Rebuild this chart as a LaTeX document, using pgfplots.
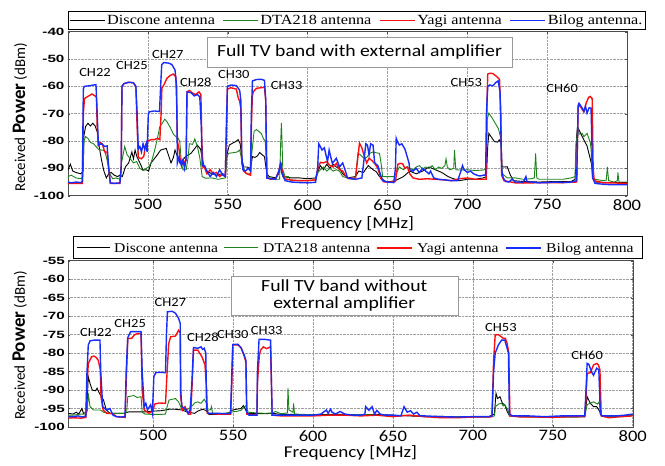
\documentclass[border=0pt]{standalone}
\usepackage{fontspec}
\setmainfont{Carlito}[FakeStretch=1.16]
\newfontfamily\ylabfont{Carlito}
\newfontfamily\legfont{Liberation Serif}[FakeStretch=1.16]
\newfontfamily\tickfont{Liberation Sans}[FakeStretch=1.45]
\usepackage{pgfplots}
\pgfplotsset{compat=1.18}

\definecolor{cBlue}{RGB}{25,45,250}
\definecolor{cRed}{RGB}{250,15,15}
\definecolor{cGreen}{RGB}{30,130,30}

\tikzset{
  chl/.style={font=\fontsize{12.5}{14}\selectfont},
  legtxt/.style={anchor=base west, inner sep=0pt, font=\legfont\fontsize{13.5}{15}\selectfont},
}

\pgfplotsset{
  tvpanel/.style={
    scale only axis,
    axis line style={gray!60!black},
    grid=major,
    major grid style={densely dotted, gray!75, line width=0.6pt},
    tick align=inside,
    major tick length=2pt,
    tick style={gray!60!black},
    xtick={500,550,...,800},
    /pgf/number format/assume math mode=true,
    xticklabel style={font=\fontsize{16}{18}\selectfont},
    yticklabel style={font=\tickfont\bfseries\fontsize{10.5}{12}\selectfont},
    xlabel={Frequency [MHz]},
    xlabel style={font=\fontsize{16.5}{19}\selectfont, anchor=center},
    ylabel={\ylabfont\fontsize{15}{17}\selectfont Received {\bfseries\fontsize{19}{20}\selectfont Power} (dBm)},
    ylabel style={anchor=center},
    legend columns=4,
    legend style={font=\legfont\fontsize{14}{15.5}\selectfont,
      inner xsep=1pt, inner ysep=1.5pt, nodes={inner sep=2pt},
      at={(0,1)}, anchor=south west, yshift=2pt,
      /tikz/every even column/.append style={column sep=5.5pt}},
  },
  discimg/.style={legend image code/.code={\draw[black, line width=1pt] (0pt,0pt) -- (35pt,0pt);}},
  dtaimg/.style={legend image code/.code={\draw[cGreen, line width=1pt] (0pt,0pt) -- (35pt,0pt);}},
  yagiimg/.style={legend image code/.code={\draw[cRed, line width=1.4pt] (0pt,0pt) -- (35pt,0pt);}},
  bilogimg/.style={legend image code/.code={\draw[cBlue, line width=1.4pt] (0pt,0pt) -- (35pt,0pt);}},
}

\begin{document}
\begin{tikzpicture}
\useasboundingbox (0,0) rectangle (665pt,466pt);

% ---------------- top panel: with external amplifier
\begin{axis}[tvpanel,
  at={(68pt,270.3pt)}, anchor=south west,
  width=559pt, height=164pt,
  xmin=450, xmax=800, ymin=-100, ymax=-40,
  ytick={-100,-90,...,-40},
  xlabel style={at={(axis description cs:0.5,-0.17)}},
  ylabel style={at={(axis description cs:-0.086,0.477)}},
]
\addlegendimage{discimg}
\addlegendentry{Discone antenna}
\addlegendimage{dtaimg}
\addlegendentry{DTA218 antenna}
\addlegendimage{yagiimg}
\addlegendentry{Yagi antenna}
\addlegendimage{bilogimg}
\addlegendentry{Bilog antenna.}
% Discone
\addplot[forget plot, draw=black, line width=0.9pt] coordinates {
(450,-90.5) (451.5,-88.5) (453,-91) (455,-91.5) (458,-92) (459.5,-91) (460,-78) (461,-74.7)
(462.5,-73.5) (464,-74.5) (465.5,-73.5) (467,-74.5) (468.5,-77) (469.5,-82) (471,-87) (472.5,-91)
(474,-93.5) (475.5,-92) (477,-91.5) (479,-92.5) (481,-93) (482.5,-92.5) (484,-93) (486,-89.4)
(488,-88) (490,-84) (491,-86.5) (492,-83.3) (493,-85.5) (495,-88) (497,-90.6) (499,-90.5)
(500.5,-91) (502,-88) (504,-86.5) (506,-85) (508,-83.3) (511.5,-82.7) (514.5,-88) (516,-86)
(517,-83.3) (520,-88) (524,-85.5) (527,-84.5) (531,-81.5) (533,-83) (535,-89) (537,-91)
(540,-92) (543,-92.5) (546,-92) (548.5,-93) (549.5,-85) (551,-81.5) (553,-80.8) (555,-80.2)
(556.5,-79.5) (557.8,-81) (559,-87) (560,-89.5) (562,-89.5) (564.3,-90) (565.5,-85.7) (567,-86)
(568.5,-85.5) (570,-84.2) (571.5,-85) (573,-85.7) (574.5,-92) (576,-93) (580,-93.5) (582,-92)
(583.5,-88.5) (584.5,-93) (590,-93.5) (595,-93.5) (600,-93.8) (605,-93.5) (606.5,-91) (608,-89)
(610,-90.5) (612,-88.5) (614,-90) (616,-88.5) (618,-89.5) (620,-90) (622,-92) (625,-93.5)
(630,-93) (632,-91) (635,-91.5) (638,-89) (641,-90.5) (643,-91.2) (645,-93) (648,-94.5)
(650,-95) (655,-94.5) (660,-93) (664,-91) (668,-92) (672,-91) (676,-89.5) (680,-90.5)
(684,-91.5) (688,-93) (690,-93.5) (695,-94.5) (700,-94) (705,-94) (710,-93.5) (712,-93)
(712.8,-82) (713.5,-77.2) (715,-78.5) (717,-80.2) (719,-80.4) (720,-79.6) (721.2,-81) (721.8,-89.4)
(723,-89.5) (725,-89.4) (727,-92.5) (729,-94.5) (735,-94.8) (745,-95) (755,-94.8) (765,-94.8)
(767.5,-94) (768.5,-78) (769,-74.7) (771,-77.2) (773,-79.6) (775,-81.8) (777,-86.5) (777.8,-88.5)
(778.5,-93.6) (780,-95) (790,-95.2) (800,-95.2)
};
% DTA218
\addplot[forget plot, draw=cGreen, line width=0.9pt] coordinates {
(450,-93) (452,-92.5) (455,-93.5) (458,-93.8) (459.3,-93) (460,-80) (461,-78.4) (462.5,-79)
(464,-80.5) (466,-81) (467.5,-82) (469,-83) (471,-83.3) (473,-83.5) (474.5,-87) (476,-91.8)
(478,-93.8) (480,-93.5) (482.5,-94) (483.5,-88) (485.5,-82) (487,-85) (489,-86.5) (491,-88)
(493,-87.5) (495,-90) (497,-90.8) (499,-90) (500.5,-89.5) (502,-88) (504,-84) (506,-79)
(507.5,-74.7) (509,-73.5) (510.6,-72) (512,-73) (514,-75) (516,-77.5) (517.5,-78.4) (519,-79)
(520,-80.2) (521,-88) (522,-90.6) (524,-90.5) (525.2,-86) (526,-81) (528,-81.2) (529.4,-79.2)
(531,-82) (532.5,-86) (534,-93) (536,-93.6) (540,-93.5) (544,-94) (548.5,-93.5) (549.5,-86)
(550.5,-84.5) (553,-84.3) (556,-84) (557.5,-83.3) (558.5,-86) (559.5,-89.4) (561.5,-91.8) (564.3,-91.8)
(565,-85) (566.5,-76.5) (568,-75.8) (569.5,-76.5) (571,-77.2) (572.5,-79.3) (573.5,-80) (574.2,-88)
(574.8,-93) (576,-93.5) (580,-94) (582.5,-94) (583.2,-80) (583.6,-73.5) (584,-80) (584.5,-90.6)
(586,-93) (588,-93) (589,-94.3) (595,-94.5) (600,-94.5) (605,-94.2) (606.5,-91.5) (608,-90.5)
(610,-89.5) (612,-91) (614,-90) (616,-91) (618,-90.5) (620,-91) (622,-93) (625,-93.5)
(628,-94) (630,-93.5) (631.5,-84.5) (633,-85) (635,-86.2) (637,-86) (639,-84.5) (641,-84)
(643,-84.3) (645,-84.5) (646,-88) (647,-93) (650,-93) (654,-93) (655.5,-92) (657.5,-89.5)
(660,-90.5) (662,-89.5) (664,-90) (666,-90.5) (668,-89.5) (670,-89) (672,-90.2) (674,-89.5)
(676,-90) (678,-89) (680,-90.5) (682,-89.5) (684,-90) (686,-89) (686.7,-86.5) (687.5,-89.5)
(689,-90.5) (691.5,-90) (692,-83.3) (692.8,-90.5) (695,-90.6) (700,-90.5) (705,-90.8) (710,-90.6)
(712,-90) (712.5,-72) (713.5,-69.8) (715.5,-71.5) (717.5,-73.5) (719.5,-75.5) (721,-79) (721.5,-88)
(722,-92) (725,-93.5) (730,-93.5) (735,-94) (740,-93.8) (742,-93.5) (742.8,-84.5) (743.5,-93.5)
(745,-94) (750,-94) (755,-94) (760,-94) (765,-93.5) (767.5,-93) (768,-81.5) (769.3,-75)
(770,-77.5) (772,-77.2) (773,-78.4) (775,-77.2) (777,-80.5) (777.5,-83) (778.5,-93.6) (780,-94)
(785,-94.5) (787,-94.3) (787.7,-89.5) (788.5,-94.5) (792,-95) (794,-94.5) (794.3,-91.5) (795,-95)
(800,-95)
};
% Yagi
\addplot[forget plot, draw=cRed, line width=1.4pt] coordinates {
(450,-95.5) (455,-95.5) (459,-95.5) (459.6,-70) (460.3,-64.5) (461.5,-64) (463,-63.5) (465,-62.8)
(467,-63.5) (467.8,-64) (468.3,-75) (469,-81.5) (470,-80.5) (471.5,-81) (473,-84) (474.5,-84)
(475.5,-90) (476.5,-95.5) (482.5,-95.5) (483.3,-90) (483.8,-60) (485,-59) (488,-58.5) (491,-58.7)
(492.5,-60) (493.3,-75) (494,-86) (496,-86.5) (497.5,-85.5) (498.5,-81.5) (500,-80) (502,-79.5)
(504,-79.5) (506,-79) (507.5,-79.5) (508.3,-70) (508.8,-60.5) (510,-59.5) (512,-57) (514,-56)
(516,-55.5) (517.5,-56.5) (518,-65) (518.5,-80) (519.5,-83) (520.5,-88) (522,-88.5) (523,-87.5)
(524,-87) (524.5,-62) (526,-61.5) (528,-62.5) (530,-63) (532,-62) (533.2,-63) (533.8,-80)
(534.5,-89.5) (535,-89) (537,-92) (539,-90.5) (541,-92) (543,-91.5) (545,-93) (547,-92)
(548.5,-93) (549.2,-75) (549.8,-61) (552,-60.5) (554,-60.8) (555.4,-61) (556.5,-64) (557.5,-65.5)
(558.2,-68) (558.8,-88) (560,-91) (562,-92) (564.3,-92.5) (564.8,-75) (565.4,-63.7) (566,-62)
(568,-60.7) (571,-60.5) (573,-60.3) (573.8,-65) (574.5,-93.5) (577,-94) (580,-93.8) (582,-91)
(583,-88.3) (584,-90.5) (585.5,-93.8) (590,-94.3) (595,-94.5) (600,-94.5) (605,-94.2) (606.5,-90)
(608,-87.8) (610,-88) (612,-87.5) (614,-89) (616,-89.5) (618,-88.2) (620,-90.5) (622,-91)
(624,-93) (626,-93.8) (630,-93.5) (631.5,-86) (632.5,-80.8) (634,-82.5) (635.5,-85.5) (637,-88)
(638.5,-86.3) (640,-87) (642,-88.2) (644,-90) (646,-93.8) (648,-95) (652,-95) (655,-94.8)
(656.5,-88.5) (658,-88.2) (659.5,-88.3) (661,-90) (662.5,-89.5) (664,-92) (666,-93.5) (670,-94)
(675,-93.8) (680,-94) (685,-94.2) (690,-94.5) (695,-93.8) (700,-93.5) (705,-94) (710,-94)
(711.8,-94) (712.2,-70) (712.8,-55.5) (714,-55.2) (716,-55.3) (717.5,-56) (719,-56.7) (720.2,-57.5)
(721,-70) (721.5,-92.5) (723,-94.5) (730,-95.3) (740,-95.3) (750,-95.2) (760,-95.2) (768.5,-95)
(769.4,-68) (770,-66.5) (772,-68.5) (773,-69.3) (774.5,-66) (776,-64) (777,-63.7) (778.2,-64.5)
(778.8,-90) (779.5,-94.5) (785,-95.3) (790,-95.3) (800,-95.5)
};
% Bilog
\addplot[forget plot, draw=cBlue, line width=1.4pt] coordinates {
(450,-95) (452,-95.3) (455,-95) (458,-95.2) (459,-94.8) (459.6,-61) (460.2,-60) (463,-59.8)
(466,-59.5) (467.5,-59.4) (468.3,-70) (469,-81.5) (471,-81) (473,-82) (474.5,-81.8) (475.5,-90)
(476.5,-95.3) (479,-95.5) (482.5,-95.3) (483.3,-90) (483.8,-60) (485,-59) (488,-58.5) (491,-58.7)
(492.5,-60) (493.3,-70) (494,-83) (495,-82) (496,-84) (497,-81) (498,-83) (499,-81)
(499.5,-84) (500.3,-70) (501,-69.3) (504,-69) (507.3,-69.2) (508,-60) (508.7,-52) (510,-51.3)
(513,-51.5) (515,-52) (517,-54) (518,-60) (518.5,-88) (519.5,-86) (521,-89) (522,-87)
(523,-90) (524,-86) (524.5,-62) (527,-62.3) (529,-63.5) (531,-63) (532.5,-63.8) (533.5,-75)
(534,-89) (535.5,-89) (537,-91) (539,-93) (541,-91.5) (543,-93) (545,-90.5) (547,-92.5)
(548.5,-93) (549.2,-75) (549.8,-60) (552,-59.5) (555.4,-59.7) (557.5,-61.5) (558.2,-65) (558.8,-85)
(559.5,-90.5) (561,-91) (563,-90) (564.3,-91) (564.8,-70) (565.5,-58) (568,-57.5) (571,-57.4)
(573,-57.8) (573.8,-65) (574.5,-93.5) (577,-93.8) (580,-94) (582,-91) (583,-88.5) (584,-92)
(586,-94.5) (590,-95) (595,-95.2) (600,-95.3) (605,-95.1) (606.3,-90) (607,-81) (608,-82)
(609,-83.3) (610.5,-82.5) (612.5,-87.5) (613.5,-83.3) (615.5,-88.2) (618,-86.3) (620,-89.5) (622,-88)
(624,-91.5) (625,-93.5) (630,-94) (634,-93.5) (635.5,-86) (636.5,-81) (637.5,-81.5) (638.5,-85)
(639.5,-81) (641,-81.5) (642,-88) (644,-89) (645.5,-92) (647,-94.5) (650,-95) (654,-95.2)
(655,-90) (655.5,-79) (656.5,-80.5) (657.5,-81.5) (659,-81) (660,-82) (661,-83) (662.5,-86)
(663.5,-88) (664,-90.5) (666,-91) (668,-90) (670,-91.5) (672,-90) (674,-91) (676,-92)
(677,-91) (679,-93.5) (682,-94) (686,-94.2) (690,-94.5) (694,-94.5) (696,-91) (697,-89)
(698,-90.5) (700,-91.5) (702,-91) (704,-92) (706,-92.5) (708,-92.8) (710,-92.5) (711.5,-92.5)
(712,-70) (712.8,-60) (714,-59.5) (716,-59.8) (718,-58.5) (719.3,-58) (720.5,-62) (721,-75)
(721.5,-90.5) (722.5,-93.5) (724,-94.8) (726,-95) (728,-94) (730,-95) (733,-95) (735,-95.2)
(736.7,-93) (737.5,-95) (740,-95) (745,-95.3) (750,-95.2) (755,-95) (760,-95.2) (765,-95)
(768.5,-94.5) (769.4,-67) (770,-66.2) (772,-68) (773,-69.2) (774,-67.3) (775,-69.8) (776.3,-67.8)
(777.5,-68) (778,-80) (778.5,-93.5) (780,-95.5) (785,-95.8) (790,-96) (795,-96) (800,-96)
};

\node[chl] at (axis cs:466.9,-55.1) {CH22};
\node[chl] at (axis cs:490,-52.5) {CH25};
\node[chl] at (axis cs:512.5,-48.5) {CH27};
\node[chl] at (axis cs:530,-58.4) {CH28};
\node[chl] at (axis cs:553.8,-55.8) {CH30};
\node[chl] at (axis cs:586.9,-59.8) {CH33};
\node[chl] at (axis cs:699.4,-58.4) {CH53};
\node[chl] at (axis cs:759.4,-60.9) {CH60};
\node[draw=gray!80, fill=white, minimum width=305pt, minimum height=30pt,
  font=\fontsize{17}{19}\selectfont] at (axis description cs:0.5215,0.876)
  {Full TV band with external amplifier};
\end{axis}

% ---------------- bottom panel: without external amplifier
\begin{axis}[tvpanel,
  at={(68.3pt,39pt)}, anchor=south west,
  width=564.4pt, height=166.3pt,
  xmin=447, xmax=800, ymin=-100, ymax=-55,
  ytick={-100,-95,...,-55},
  xlabel style={at={(axis description cs:0.5,-0.158)}},
  ylabel style={at={(axis description cs:-0.086,0.49)}},
]
% Discone
\addplot[draw=black, line width=0.9pt] coordinates {
(447,-96.3) (450,-96.5) (452,-96) (453.5,-96.5) (455.5,-95) (456.5,-96.3) (458.5,-96) (459.5,-86.4)
(460.6,-88.2) (462,-90) (464,-90.2) (465,-89.5) (466,-90.5) (467.7,-91.8) (469,-92.7) (470.8,-95.4)
(473,-96.3) (480,-96.3) (482,-96.3) (485,-95.9) (490,-95.9) (495,-95.9) (500,-95.7) (505,-95.6)
(510,-95.2) (514,-95.2) (518,-95.4) (522,-96) (526,-96.3) (528,-95.7) (531,-95.2) (533,-95.5)
(535,-96.6) (540,-96.6) (547,-96.6) (549,-95.5) (552,-95.2) (555,-95) (556.5,-94.2) (557.5,-95)
(559,-96.3) (565,-96.4) (570,-96.4) (575,-96.3) (580,-96.6) (590,-96.6) (600,-96.7) (610,-96.6)
(620,-96.6) (630,-96.7) (640,-96.6) (650,-96.8) (660,-97) (670,-97.2) (680,-97.1) (690,-97.3)
(700,-97.3) (710,-97.2) (713.5,-96.5) (714.5,-90.9) (715.5,-92.3) (717,-91.8) (718.5,-93.6) (720,-94)
(721.5,-95.8) (723,-97) (730,-97.2) (740,-97.3) (750,-97.3) (760,-97.3) (770,-97.2) (771.5,-91.8)
(773.5,-93.6) (775.5,-94.5) (777.5,-94.5) (779.5,-95.9) (780.5,-97) (790,-97.2) (800,-96.8)
};
% DTA218
\addplot[draw=cGreen, line width=0.9pt] coordinates {
(447,-96.8) (450,-96.8) (455,-96.5) (458,-96.5) (458.9,-95.5) (459.5,-90.9) (460.6,-94.5) (462.7,-95.4)
(467,-95.4) (469,-96) (473,-96.3) (478,-96.3) (482,-96.3) (483.5,-96) (484.2,-91.8) (488,-91.5)
(490,-92) (492.5,-91.8) (493.2,-96) (495,-96.5) (500,-96.6) (505,-96.6) (507.8,-96.5) (508.8,-94.5)
(510,-92.7) (514,-92.3) (516,-93.2) (518,-95.2) (521,-95.4) (524,-94.5) (526.3,-93.4) (528,-93.2)
(530,-93.6) (532,-92.5) (533.5,-93.6) (534,-95.5) (536,-95.3) (536.6,-94.5) (537.2,-96.3) (540,-96.3)
(545,-96.3) (548,-96) (552,-95.8) (555,-95.5) (557,-94.5) (558,-94.3) (559.5,-96) (565,-96.2)
(570,-96.3) (575,-96.2) (576.5,-95.8) (580,-96.4) (584,-96.2) (584.4,-89.5) (585,-95.4) (587.5,-96)
(587.9,-93.6) (588.5,-96.5) (595,-96.6) (600,-96.7) (610,-96.8) (620,-96.8) (630,-96.6) (640,-96.8)
(650,-97) (660,-96.8) (670,-97.2) (680,-97.3) (690,-97.2) (700,-97.2) (710,-97.3) (713.5,-97)
(714.2,-94.5) (716,-93.8) (718,-93.6) (719,-94.3) (720,-94) (722,-95.4) (723,-97) (730,-97.2)
(740,-97.2) (750,-97.2) (760,-97.3) (770,-97.2) (771.5,-94) (773.5,-93.5) (775.5,-93.2) (778,-93.8)
(779,-93.2) (779.5,-94.5) (780.5,-97) (790,-97.2) (800,-96.8)
};
% Yagi
\addplot[draw=cRed, line width=1.4pt] coordinates {
(447,-97.6) (450,-97.5) (455,-97.6) (458,-97.4) (458.6,-90) (459.5,-82.8) (461.6,-81) (463,-80.8)
(464.5,-81.2) (465.8,-82) (467,-84.5) (467.5,-92) (468.8,-95.4) (471,-96.3) (475,-96.4) (477,-97.2)
(482.5,-97.4) (483.2,-88) (484.2,-76) (486.6,-76) (488.5,-75) (490.5,-74.7) (492.5,-74.8) (493.2,-90)
(494.5,-95.4) (497.5,-96.3) (500,-95.5) (501,-93.8) (504,-93.5) (507.8,-93.6) (508.8,-85) (509.8,-77.4)
(511,-75.6) (514,-75.4) (516,-73.8) (517,-74.5) (517.3,-92) (518.5,-95.4) (520,-94.5) (522,-96.5)
(523.5,-96.5) (524.3,-90) (525.3,-79.2) (528,-79.2) (530.6,-81) (532.5,-83.2) (533.5,-90) (534,-96.3)
(540,-96.5) (548.5,-96.5) (549.3,-88) (549.9,-77.8) (553,-77.8) (555,-78.5) (557,-80.8) (558.1,-82.5)
(558.6,-96.5) (565,-96.8) (565.3,-88) (566.5,-80.5) (567.3,-79.2) (569,-78.3) (571,-78.8) (573.5,-78.3)
(574.5,-96.8) (580,-97) (590,-97) (600,-97) (610,-96.8) (620,-96.8) (630,-97) (640,-96.8)
(650,-97.2) (660,-96.8) (670,-97.2) (680,-97.5) (690,-97.5) (700,-97.3) (710,-97.3) (712,-97.2)
(713,-82) (714,-75.1) (716,-75) (717.5,-75.5) (719,-76) (720.3,-76) (721.5,-77.4) (722.5,-80)
(723.2,-97) (730,-97.3) (740,-97.3) (750,-97.4) (760,-97.2) (770,-97.2) (770.8,-92) (771.5,-85.5)
(773.5,-85.3) (775.5,-83.2) (777.5,-82.8) (778.5,-83.2) (779.5,-84.5) (780.3,-97) (785,-97.5) (790,-97.3)
(800,-97)
};
% Bilog
\addplot[draw=cBlue, line width=1.4pt] coordinates {
(447,-97.2) (450,-97.2) (453,-97) (456,-97.3) (458,-97) (458.6,-86) (459.5,-77.8) (460.6,-76.7)
(463,-76.5) (466.8,-76.5) (467.3,-85) (468.5,-94.5) (470.8,-95.4) (473,-95) (475,-96.8) (477,-97.2)
(480,-97.3) (482.5,-97.2) (483.2,-85) (484.2,-75.8) (486,-74.2) (489,-74.2) (492.5,-74.2) (493.2,-85)
(494.5,-94.5) (495.5,-93.6) (496.5,-95.4) (498.5,-94) (499.6,-96.3) (500.5,-86.4) (501.7,-85.3) (504,-85.2)
(507.8,-85.3) (508.4,-75) (509,-68.8) (512,-68.7) (514,-69.2) (516,-70.6) (517,-72) (517.3,-90)
(518,-94.5) (520,-95) (522,-96.3) (523.2,-95.4) (524.3,-88) (525.3,-78.5) (528,-78.7) (530,-78.3)
(531,-79) (532,-78.7) (533,-80) (533.5,-95) (534.5,-96.3) (540,-96.3) (545,-96.4) (548.5,-96.3)
(549.3,-85) (549.9,-77.7) (553,-77.6) (555,-78.5) (557,-80.5) (558.1,-82) (558.6,-96) (560,-96.8)
(565,-96.8) (565.3,-85) (566.3,-76.3) (570,-76.3) (573.5,-76.5) (574.5,-96.8) (580,-96.8) (590,-96.8)
(600,-96.8) (605,-96.5) (608.4,-95.4) (609.5,-96.3) (611,-95.2) (612,-96) (614,-96.5) (617,-95.8)
(620,-96.5) (625,-96.8) (630,-96.8) (632.5,-96.5) (633,-94.5) (635,-95.5) (637,-94.5) (638.5,-96.5)
(640,-95.5) (642,-96.5) (645,-96.8) (650,-96.8) (655,-97) (657,-94.5) (659,-96) (661,-95.6)
(663,-96.5) (665,-96) (667,-97) (670,-97) (680,-97.2) (690,-97.3) (700,-97.2) (710,-97.2)
(712,-97) (713,-85) (714,-80) (716,-77.8) (718,-76.5) (720,-76.5) (721.2,-78.3) (722.3,-80)
(722.9,-96.5) (725,-97) (735,-97) (745,-97.2) (755,-97) (765,-97) (770,-97) (770.8,-90)
(771.5,-82.8) (772.5,-83) (774.5,-85.3) (775.5,-86) (776.5,-85) (777.5,-84.1) (778.8,-84.5) (779.8,-96.5)
(781,-97) (790,-97) (795,-96.8) (800,-96.5)
};

\node[chl] at (axis cs:464.3,-74.5) {CH22};
\node[chl] at (axis cs:485.7,-72.0) {CH25};
\node[chl] at (axis cs:510.9,-66.3) {CH27};
\node[chl] at (axis cs:531.2,-75.7) {CH28};
\node[chl] at (axis cs:549.9,-75.1) {CH30};
\node[chl] at (axis cs:571.1,-73.8) {CH33};
\node[chl] at (axis cs:717.6,-73.2) {CH53};
\node[chl] at (axis cs:771.5,-80.5) {CH60};
\node[draw=gray!80, fill=white, minimum width=227pt, minimum height=35pt, align=center,
  font=\fontsize{17}{17}\selectfont] at (axis description cs:0.489,0.79)
  {Full TV band without\\external amplifier};
\end{axis}

% legend key of the bottom panel
\draw[black, fill=white, line width=0.5pt] (73pt,207.5pt) rectangle (642pt,229.5pt);
\draw[black, line width=1pt] (77pt,218pt) -- (110pt,218pt);
\node[legtxt] at (114pt,213.5pt) {Discone antenna};
\draw[cGreen, line width=1pt] (224pt,218pt) -- (258pt,218pt);
\node[legtxt] at (263pt,213.5pt) {DTA218 antenna};
\draw[cRed, line width=1.4pt] (377pt,218pt) -- (412pt,218pt);
\node[legtxt] at (417pt,213.5pt) {Yagi antenna};
\draw[cBlue, line width=1.4pt] (506pt,218pt) -- (541pt,218pt);
\node[legtxt] at (546pt,213.5pt) {Bilog antenna};
\end{tikzpicture}
\end{document}
